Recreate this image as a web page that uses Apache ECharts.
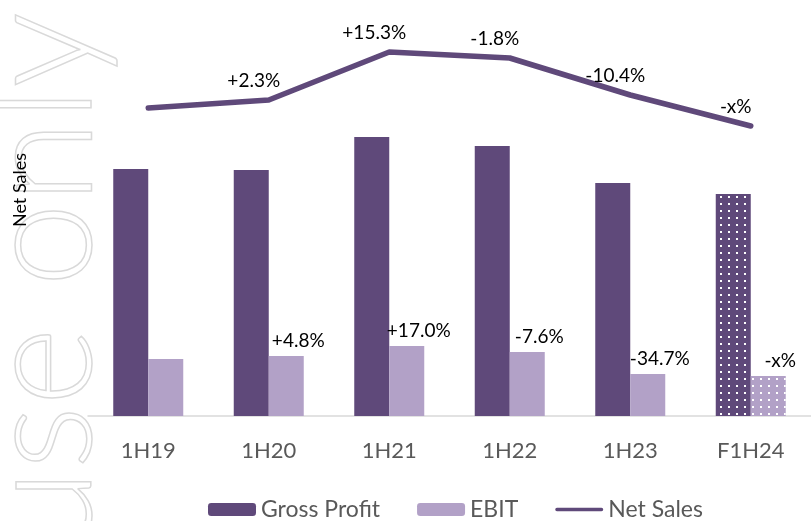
<!DOCTYPE html>
<html>
<head>
<meta charset="utf-8">
<script src="https://cdn.jsdelivr.net/npm/echarts@6/dist/echarts.min.js"></script>
<style>
  html, body { margin: 0; padding: 0; background: #fff; }
  #chart { width: 811px; height: 521px; }
</style>
</head>
<body>
<div id="chart"></div>
<script>
// half-year periods, F = forecast
const categories = ['1H19', '1H20', '1H21', '1H22', '1H23', 'F1H24'];
const forecastCategory = 'F1H24';

// values (relative units, same scale)
const grossProfit = [247, 246, 279, 270, 233, 222];
const ebit = [57, 60, 70, 64, 42, 40];
const netSales = [308, 316, 364, 358, 321, 290];

// growth vs previous period
const ebitGrowth = ['', '+4.8%', '+17.0%', '-7.6%', '-34.7%', '-x%'];
const netSalesGrowth = ['', '+2.3%', '+15.3%', '-1.8%', '-10.4%', '-x%'];

const darkPurple = '#5F497A';
const lightPurple = '#B2A1C7';
const font = 'Lato';

// dotted fill for forecast bars
const dots = {
  symbol: 'rect',
  symbolSize: 1,
  color: '#ffffff',
  dashArrayX: [2, 6],
  dashArrayY: [2, 5],
  rotation: 0
};
const withForecast = (values) => values.map((v, i) =>
  categories[i] === forecastCategory ? { value: v, itemStyle: { decal: dots } } : v
);

const chart = echarts.init(document.getElementById('chart'));

const option = {
  animation: false,
  backgroundColor: '#fff',
  textStyle: { fontFamily: font },
  graphic: [
    {
      // watermark
      type: 'text',
      z: -10,
      x: 118,
      y: 552,
      rotation: Math.PI / 2,
      silent: true,
      style: {
        text: 'use only',
        font: '300 150px Lato',
        fill: 'none',
        stroke: '#d9d9d9',
        lineWidth: 1.5,
        textAlign: 'left',
        textVerticalAlign: 'bottom'
      }
    },
    {
      // axis title
      type: 'text',
      x: 20,
      y: 190,
      rotation: Math.PI / 2,
      style: {
        text: 'Net Sales',
        font: '18px Lato',
        fill: '#000',
        textAlign: 'center',
        textVerticalAlign: 'middle'
      }
    }
  ],
  grid: {
    left: 88,
    top: 16,
    width: 728,
    height: 400,
    containLabel: false
  },
  legend: {
    data: [
      'Gross Profit',
      'EBIT',
      { name: 'Net Sales', icon: 'path://M2,0H53A2,2,0,0,1,53,4H2A2,2,0,0,1,2,0Z' }
    ],
    left: 203,
    top: 493,
    itemWidth: 48,
    itemHeight: 13,
    itemGap: 37,
    textStyle: { fontFamily: font, fontSize: 23, color: '#595959' }
  },
  xAxis: {
    type: 'category',
    data: categories,
    axisLine: { lineStyle: { color: '#d9d9d9', width: 1.5 } },
    axisTick: { show: false },
    axisLabel: { fontFamily: font, fontSize: 22, color: '#595959', margin: 24 }
  },
  yAxis: {
    type: 'value',
    min: 0,
    max: 400,
    show: false,
    splitLine: { show: false }
  },
  series: [
    {
      name: 'Gross Profit',
      type: 'bar',
      barWidth: 35,
      barGap: '0%',
      itemStyle: { color: darkPurple },
      data: withForecast(grossProfit)
    },
    {
      name: 'EBIT',
      type: 'bar',
      barWidth: 35,
      itemStyle: { color: lightPurple },
      label: {
        show: true,
        position: 'top',
        distance: 6,
        offset: [12, 0],
        fontFamily: font,
        fontSize: 19,
        color: '#000',
        formatter: (p) => ebitGrowth[p.dataIndex]
      },
      data: withForecast(ebit)
    },
    {
      name: 'Net Sales',
      type: 'line',
      symbol: 'circle',
      symbolSize: 0.1,
      showSymbol: true,
      z: 5,
      lineStyle: { color: darkPurple, width: 5.5, cap: 'round', join: 'round' },
      itemStyle: { color: darkPurple },
      label: {
        show: true,
        position: 'top',
        distance: 8,
        offset: [-15, -2],
        fontFamily: font,
        fontSize: 19,
        color: '#000',
        formatter: (p) => netSalesGrowth[p.dataIndex]
      },
      data: netSales
    }
  ]
};

chart.setOption(option);
</script>
</body>
</html>
